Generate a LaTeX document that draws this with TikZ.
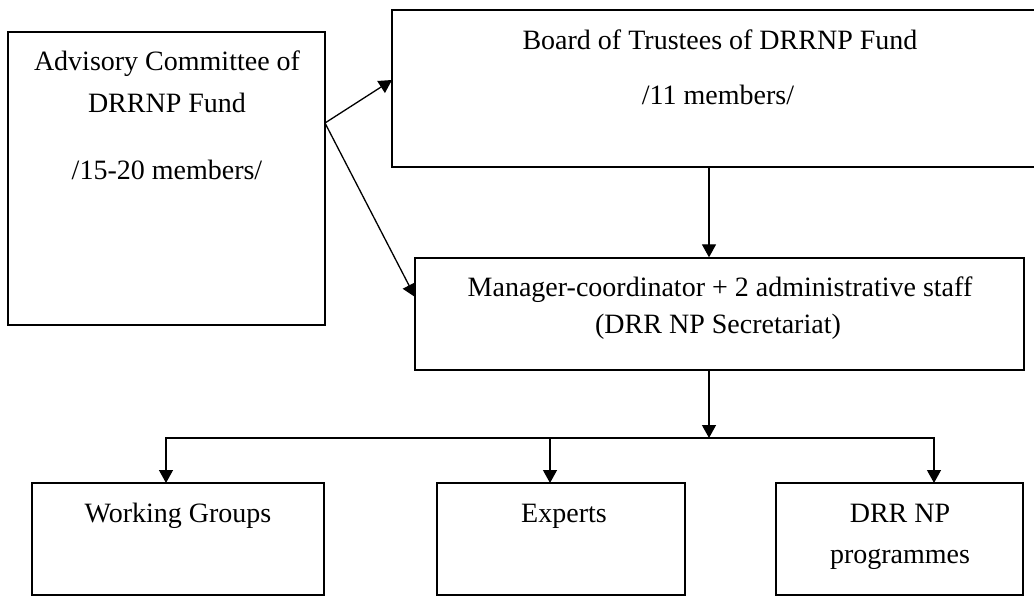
\documentclass[tikz,border=0pt]{standalone}
\usepackage{fontspec}
\setmainfont{Liberation Serif}
\usetikzlibrary{arrows.meta,calc}
\begin{document}
\begin{tikzpicture}[x=1pt,y=-1pt,
  box/.style={draw,line width=1.3pt,rectangle,inner sep=0pt},
  lbl/.style={anchor=base,inner sep=0pt,font=\fontsize{28}{30}\selectfont},
  arr/.style={line width=1.3pt,-{Triangle[length=13pt,width=14pt]}},
  ln/.style={line width=1.3pt}]
\useasboundingbox (0,0) rectangle (1034,596);
% boxes
\node[box,minimum width=317pt,minimum height=293pt] (adv) at (166.5,178.5) {};
\node[box,minimum width=653pt,minimum height=157pt] (board) at (718.5,88.5) {};
\node[box,minimum width=609pt,minimum height=112pt] (mgr) at (719.5,314) {};
\node[box,minimum width=292pt,minimum height=112pt] (wg) at (178,539) {};
\node[box,minimum width=248pt,minimum height=112pt] (exp) at (561,539) {};
\node[box,minimum width=247pt,minimum height=112pt] (drr) at (899.5,539) {};
% labels
\node[lbl] (adv1) at (167,71) {Advisory Committee of};
\node[lbl] (adv2) at (167,113) {DRRNP Fund};
\node[lbl] (adv3) at (167,180) {/15-20 members/};
\node[lbl] (board1) at (720,50) {Board of Trustees of DRRNP Fund};
\node[lbl] (board2) at (718,105) {/11 members/};
\node[lbl] (mgr1) at (720,297) {Manager-coordinator + 2 administrative staff};
\node[lbl] (mgr2) at (718,333) {(DRR NP Secretariat)};
\node[lbl] (wg1) at (178,522) {Working Groups};
\node[lbl] (exp1) at (564,522) {Experts};
\node[lbl] (drr1) at (900,522) {DRR NP};
\node[lbl] (drr2) at (900,563) {programmes};
% connector points
\coordinate (advout) at (325,123);
\coordinate (boardin) at (392,80);
\coordinate (mgrin) at (415,297);
\coordinate (junc) at (709,438);
\coordinate (wgin) at (166,483);
\coordinate (expin) at (550,483);
\coordinate (drrin) at (934,483);
% connectors
\draw[arr] (advout) -- (boardin);
\draw[arr] (advout) -- (mgrin);
\draw[arr] (board.south -| junc) -- (mgr.north -| junc);
\draw[arr] (mgr.south -| junc) -- (junc);
\draw[arr] (junc) -| (wgin);
\draw[arr] (junc) -| (drrin);
\draw[arr] (junc -| expin) -- (expin);
\end{tikzpicture}
\end{document}
